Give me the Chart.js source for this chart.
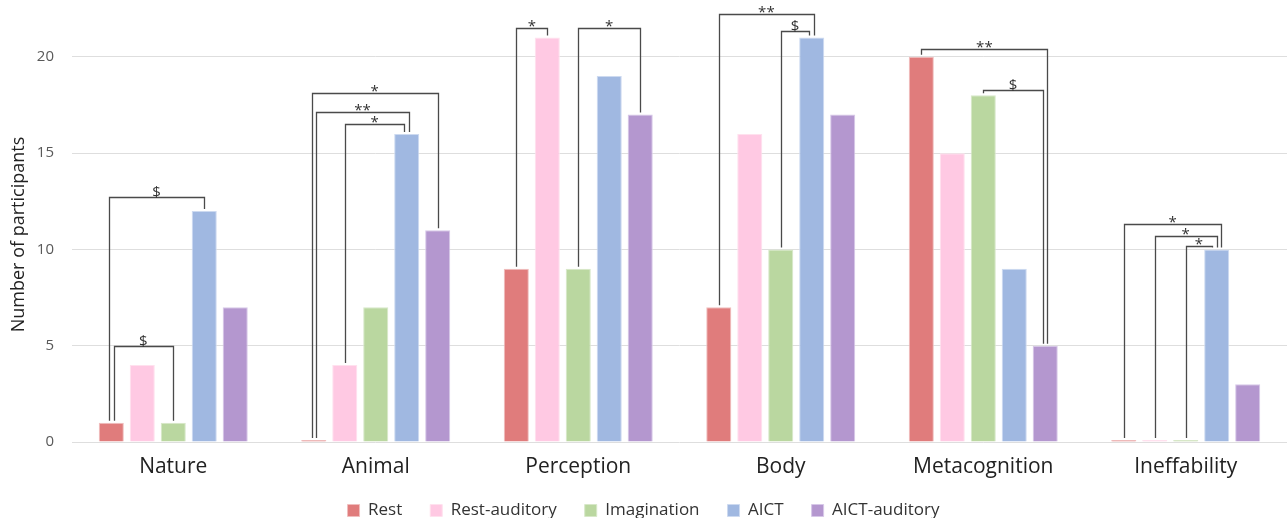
<!DOCTYPE html>
<html>
<head>
<meta charset="utf-8">
<script src="https://cdn.jsdelivr.net/npm/chart.js@4/dist/chart.umd.min.js"></script>
<style>
  html, body { margin: 0; padding: 0; background: #fff; }
  #wrap { width: 1287px; height: 518px; }
</style>
</head>
<body>
<div id="wrap"><canvas id="chart"></canvas></div>
<script>
// categories and series
const categories = ['Nature', 'Animal', 'Perception', 'Body', 'Metacognition', 'Ineffability'];
const seriesNames = ['Rest', 'Rest-auditory', 'Imagination', 'AICT', 'AICT-auditory'];

const rest         = [1, 0, 9, 7, 20, 0];
const restAuditory = [4, 4, 21, 16, 15, 0];
const imagination  = [1, 7, 9, 10, 18, 0];
const aict         = [12, 16, 19, 21, 9, 10];
const aictAuditory = [7, 11, 17, 17, 5, 3];

const yTicks = [0, 5, 10, 15, 20];

// significance brackets: [category, from series, to series, level, label]
const brackets = [
  [0, 0, 3, 12.7, '$'],
  [0, 0, 2, 5.0, '$'],
  [1, 0, 4, 18.1, '*'],
  [1, 0, 3, 17.15, '**'],
  [1, 1, 3, 16.5, '*'],
  [2, 0, 1, 21.5, '*'],
  [2, 2, 4, 21.5, '*'],
  [3, 0, 3, 22.2, '**'],
  [3, 2, 3, 21.35, '$'],
  [4, 0, 4, 20.4, '**'],
  [4, 2, 4, 18.3, '$'],
  [5, 0, 3, 11.3, '*'],
  [5, 1, 3, 10.7, '*'],
  [5, 2, 3, 10.2, '*']
];

const fills   = ['rgb(224,124,124)', 'rgb(255,201,227)', 'rgb(186,215,160)', 'rgb(160,184,225)', 'rgb(180,151,207)'];
const borders = ['rgb(240,190,190)', 'rgb(255,225,238)', 'rgb(215,232,200)', 'rgb(205,218,240)', 'rgb(215,200,232)'];
const values  = [rest, restAuditory, imagination, aict, aictAuditory];

// draw the brackets from the bar positions
const bracketPlugin = {
  id: 'brackets',
  afterDatasetsDraw(chart) {
    const ctx = chart.ctx;
    const y = chart.scales.y;
    // legs sharing one bar, outer (higher) bracket first
    const legs = {};
    const order = brackets.map((b, i) => i).sort((a, b) => brackets[b][3] - brackets[a][3]);
    order.forEach(i => {
      const b = brackets[i];
      [b[1], b[2]].forEach(s => {
        const k = b[0] + '_' + s;
        (legs[k] = legs[k] || []).push(i);
      });
    });
    function leg(i, c, s, dir) {
      const bar = chart.getDatasetMeta(s).data[c];
      const list = legs[c + '_' + s];
      const off = (list.indexOf(i) - (list.length - 1) / 2) * 4.5;
      return { x: bar.x + dir * off, top: bar.y };
    }
    ctx.save();
    ctx.strokeStyle = '#4a4a4a';
    ctx.lineWidth = 1.3;
    ctx.fillStyle = '#333';
    ctx.font = '15px "Open Sans", sans-serif';
    ctx.textAlign = 'center';
    ctx.textBaseline = 'bottom';
    brackets.forEach((b, i) => {
      const [c, s1, s2, level, label] = b;
      const L = leg(i, c, s1, 1);
      const R = leg(i, c, s2, -1);
      const ly = Math.round(y.getPixelForValue(level)) + 0.5;
      ctx.beginPath();
      ctx.moveTo(Math.round(L.x) + 0.5, L.top - 2);
      ctx.lineTo(Math.round(L.x) + 0.5, ly);
      ctx.lineTo(Math.round(R.x) + 0.5, ly);
      ctx.lineTo(Math.round(R.x) + 0.5, R.top - 2);
      ctx.stroke();
      ctx.fillText(label, (L.x + R.x) / 2, ly + (label === '$' ? 3 : 6));
    });
    ctx.restore();
  }
};

new Chart(document.getElementById('chart'), {
  type: 'bar',
  data: {
    labels: categories,
    datasets: seriesNames.map((name, i) => ({
      label: name,
      data: values[i],
      backgroundColor: fills[i],
      borderColor: borders[i],
      borderWidth: 1,
      minBarLength: 2,
      categoryPercentage: 0.765,
      barPercentage: 0.81
    }))
  },
  options: {
    responsive: true,
    maintainAspectRatio: false,
    animation: false,
    layout: { padding: { top: 0, right: 0, left: 0, bottom: -11 } },
    scales: {
      x: {
        afterFit: axis => {
          axis.height = 32;
          axis._computeLabelArea = () => undefined; // let the labels run past the short box
        },
        grid: { display: false, drawTicks: false },
        border: { display: false },
        ticks: { color: '#222', font: { family: '"Open Sans", sans-serif', size: 21, lineHeight: 1 }, padding: 15 }
      },
      y: {
        min: 0,
        max: 21.55,
        afterBuildTicks: axis => { axis.ticks = yTicks.map(v => ({ value: v })); },
        afterFit: axis => { axis.width = 72; },
        grid: { color: '#dedede', drawTicks: false },
        border: { display: false },
        ticks: { color: '#595959', font: { family: '"Open Sans", sans-serif', size: 15 }, padding: 18 },
        title: {
          display: true,
          text: 'Number of participants',
          color: '#222',
          font: { family: '"Open Sans", sans-serif', size: 18 },
          padding: { top: 8, bottom: 0 }
        }
      }
    },
    plugins: {
      legend: {
        position: 'bottom',
        labels: {
          boxWidth: 12,
          boxHeight: 12,
          padding: 28,
          color: '#333',
          font: { family: '"Open Sans", sans-serif', size: 17 }
        }
      },
      tooltip: { enabled: false }
    }
  },
  plugins: [bracketPlugin]
});
</script>
</body>
</html>
